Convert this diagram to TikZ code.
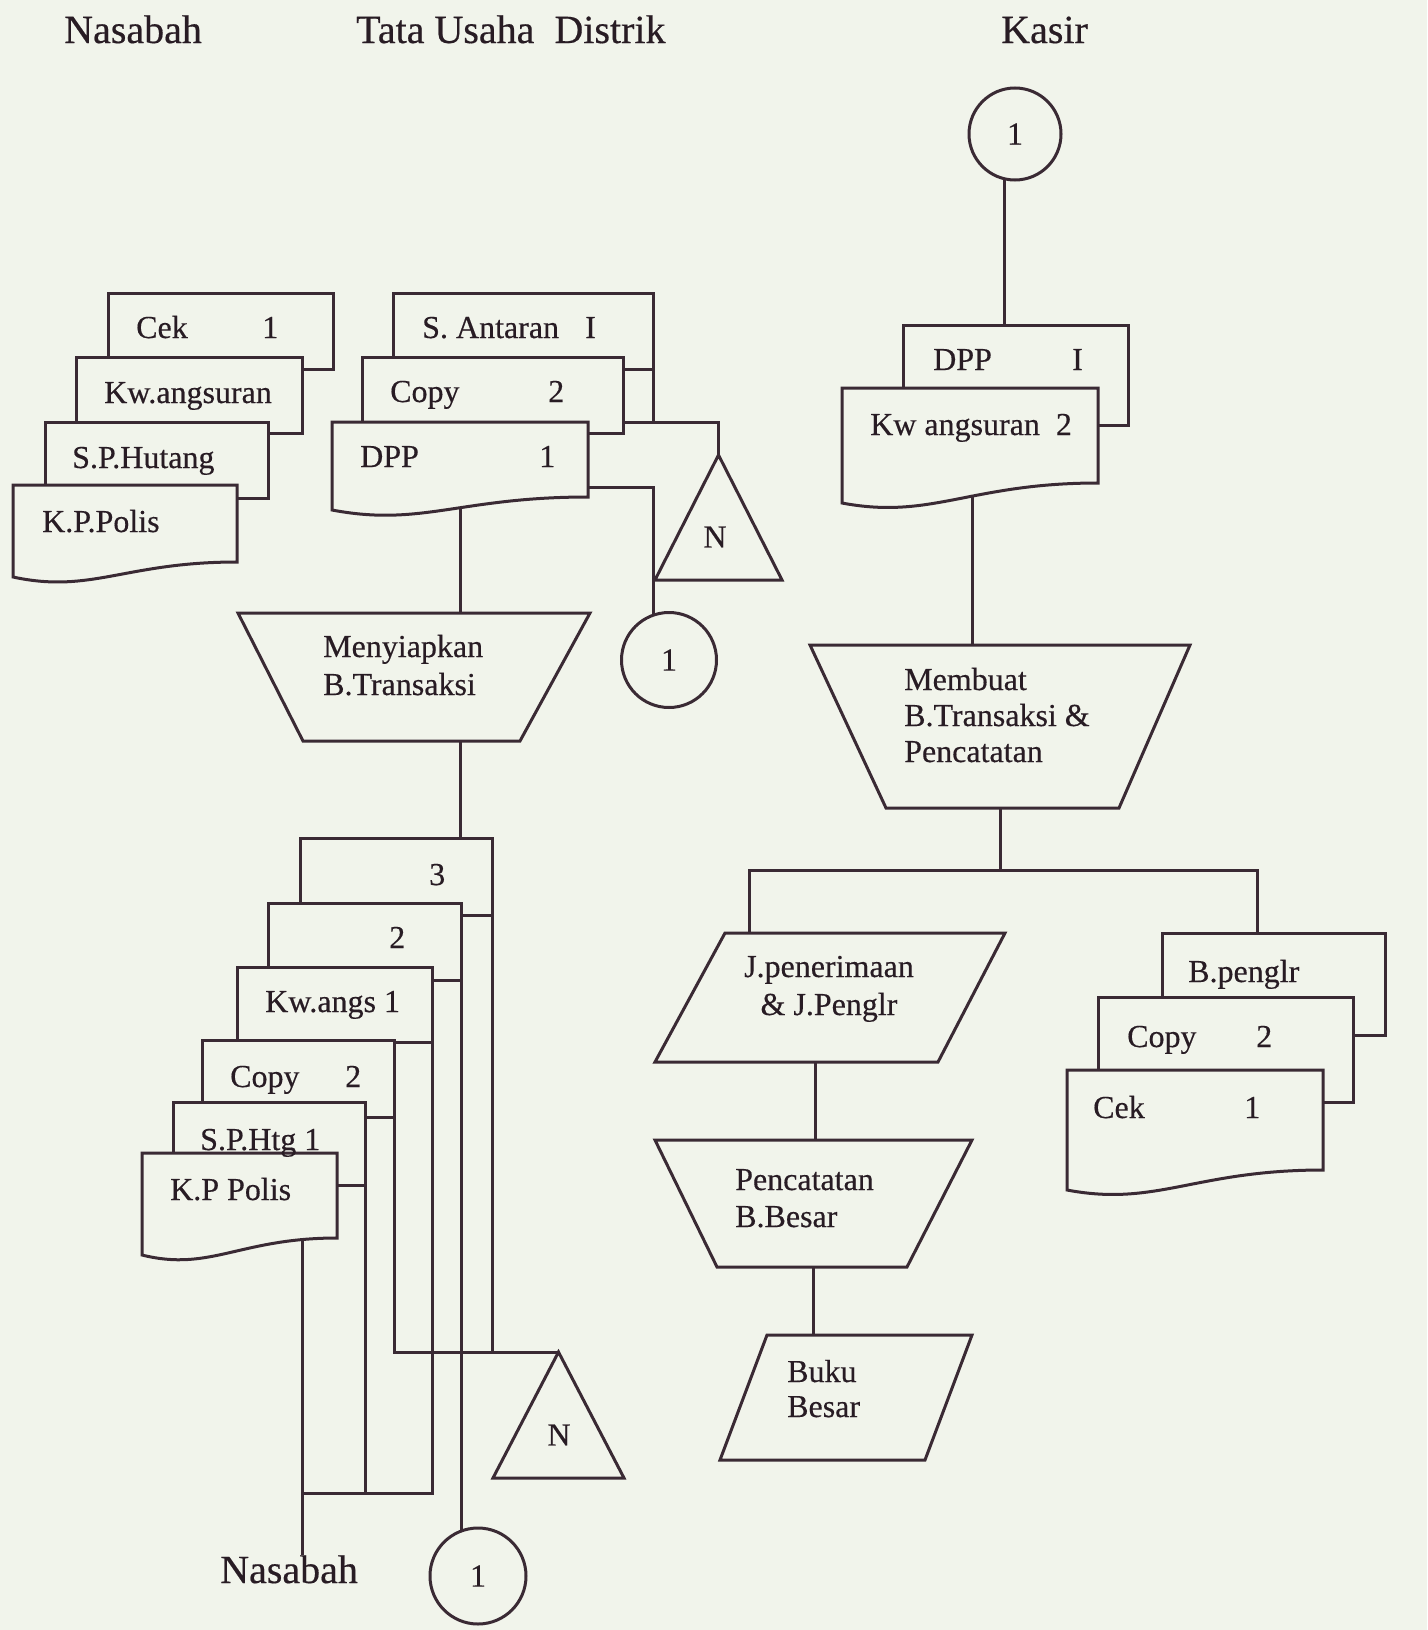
\documentclass[tikz,border=0pt]{standalone}
\usepackage{fontspec}
\setmainfont{Liberation Serif}[FakeBold=0.4]
\usetikzlibrary{calc}
\definecolor{sheetbg}{RGB}{241,244,235}
\definecolor{ink}{RGB}{58,42,52}
\definecolor{inktext}{RGB}{40,28,36}
\pgfdeclarelayer{ground}
\pgfdeclarelayer{wires}
\pgfsetlayers{ground,wires,main}
\tikzset{
  frame/.style={rectangle, inner sep=0pt, outer sep=0pt, anchor=north west, draw=none},
  docline/.style={draw=ink, fill=sheetbg, line width=3pt, line join=miter},
  flow/.style={draw=ink, line width=3pt},
  txt/.style={font=\fontsize{32}{38}\selectfont, text=inktext, inner sep=0pt, anchor=base west},
  ctxt/.style={txt, anchor=base},
  head/.style={font=\fontsize{40}{48}\selectfont, text=inktext, inner sep=0pt, anchor=base west},
  conn/.style={circle, draw=ink, fill=sheetbg, line width=3pt, inner sep=0pt,
    minimum size=#1, font=\fontsize{32}{38}\selectfont, text=inktext},
  tritxt/.style={font=\fontsize{32}{38}\selectfont, text=inktext, inner sep=0pt},
}
% plain sheet lying behind the front one
\newcommand\sheetbox[1]{\filldraw[docline] (#1.north west) rectangle (#1.south east);}
% front document with a wavy lower edge: node, width, drop of the left corner
\newcommand\wavedoc[3]{\filldraw[docline] (#1.north west) -- (#1.north east) -- (#1.south east)
  .. controls +({-0.5*#2},0) and +({0.35*#2},17) .. ($(#1.south west)+(0,#3)$) -- cycle;}

\begin{document}
\begin{tikzpicture}[x=1pt,y=-1pt]
\begin{pgfonlayer}{ground}
  \fill[sheetbg] (0,0) rectangle (1427,1630);
\end{pgfonlayer}
\useasboundingbox (0,0) rectangle (1427,1630);

% ---------- column headings ----------
\node[head] (hNas) at (64,43) {Nasabah};
\node[head] (hTU) at (356,43) {Tata Usaha\ \ Distrik};
\node[head] (hKas) at (1001,43) {Kasir};

% ---------- Nasabah: documents held ----------
\node[frame, minimum width=225pt, minimum height=76pt] (cekA) at (108,293) {};
\node[frame, minimum width=226pt, minimum height=76pt] (kwA) at (76,357) {};
\node[frame, minimum width=223pt, minimum height=76pt] (spA) at (45,422) {};
\node[frame, minimum width=224pt, minimum height=77pt] (kpA) at (13,485) {};
\sheetbox{cekA}\sheetbox{kwA}\sheetbox{spA}\wavedoc{kpA}{224}{15}

% ---------- Tata Usaha: incoming documents ----------
\node[frame, minimum width=260pt, minimum height=76pt] (antar) at (393,293) {};
\node[frame, minimum width=261pt, minimum height=76pt] (copyT) at (362,357) {};
\node[frame, minimum width=256pt, minimum height=75pt] (dppT) at (332,422) {};
\sheetbox{antar}\sheetbox{copyT}\wavedoc{dppT}{256}{13}

% file N (upper)
\node[frame, minimum width=127pt, minimum height=125pt] (fileA) at (655,455) {};
\filldraw[docline] (fileA.north) -- (fileA.south east) -- (fileA.south west) -- cycle;
\node[conn=95pt] (conA) at (669,660) {1};

% manual process
\node[frame, minimum width=352pt, minimum height=128pt] (prep) at (238,613) {};
\filldraw[docline] (prep.north west) -- (prep.north east) -- ($(prep.south east)+(-70,0)$)
  -- ($(prep.south west)+(65,0)$) -- cycle;

% output set of documents
\node[frame, minimum width=192pt, minimum height=77pt] (sh3) at (300,838) {};
\node[frame, minimum width=193pt, minimum height=77pt] (sh2) at (268,903) {};
\node[frame, minimum width=195pt, minimum height=75pt] (kwB) at (237,967) {};
\node[frame, minimum width=192pt, minimum height=77pt] (copyB) at (202,1040) {};
\node[frame, minimum width=192pt, minimum height=83pt] (spB) at (173,1102) {};
\node[frame, minimum width=195pt, minimum height=85pt] (kpB) at (142,1153) {};
\sheetbox{sh3}\sheetbox{sh2}\sheetbox{kwB}\sheetbox{copyB}\sheetbox{spB}\wavedoc{kpB}{195}{17}

% file N (lower) and off-page connector
\node[frame, minimum width=131pt, minimum height=126pt] (fileB) at (493,1352) {};
\filldraw[docline] (fileB.north) -- (fileB.south east) -- (fileB.south west) -- cycle;
\node[conn=96pt] (conB) at (478,1576) {1};
\node[head] (nasB) at (220,1583) {Nasabah};

% ---------- Kasir ----------
\node[conn=92pt] (conK) at (1015,134) {1};
\node[frame, minimum width=225pt, minimum height=100pt] (dppK) at (903,325) {};
\node[frame, minimum width=256pt, minimum height=95pt] (kwK) at (842,388) {};
\sheetbox{dppK}\wavedoc{kwK}{256}{20}

\node[frame, minimum width=380pt, minimum height=163pt] (make) at (810,645) {};
\filldraw[docline] (make.north west) -- (make.north east) -- ($(make.south east)+(-71,0)$)
  -- ($(make.south west)+(76,0)$) -- cycle;

\node[frame, minimum width=350pt, minimum height=129pt] (jrnl) at (655,933) {};
\filldraw[docline] ($(jrnl.north west)+(70,0)$) -- (jrnl.north east) -- ($(jrnl.south east)+(-67,0)$)
  -- (jrnl.south west) -- cycle;

\node[frame, minimum width=317pt, minimum height=127pt] (post) at (655,1140) {};
\filldraw[docline] (post.north west) -- (post.north east) -- ($(post.south east)+(-65,0)$)
  -- ($(post.south west)+(62,0)$) -- cycle;

\node[frame, minimum width=252pt, minimum height=125pt] (ledger) at (720,1335) {};
\filldraw[docline] ($(ledger.north west)+(47,0)$) -- (ledger.north east) -- ($(ledger.south east)+(-47,0)$)
  -- (ledger.south west) -- cycle;

\node[frame, minimum width=223pt, minimum height=102pt] (bpen) at (1162,933) {};
\node[frame, minimum width=255pt, minimum height=105pt] (copyK) at (1098,997) {};
\node[frame, minimum width=256pt, minimum height=100pt] (cekK) at (1067,1070) {};
\sheetbox{bpen}\sheetbox{copyK}\wavedoc{cekK}{256}{20}

% ---------- flow lines ----------
\begin{pgfonlayer}{wires}
  \path (fileA.north) ++(0,-33) coordinate (jA);
  \draw[flow] (antar.south east) -- (antar.south east |- jA);
  \draw[flow] (copyT.east |- jA) -- (jA) -- (fileA.north);
  \coordinate (jD) at (653,487);
  \draw[flow] (dppT.east |- jD) -- (jD) -- (jD |- conA.center);
  \draw[flow] ($(dppT.south west)+(128,0)$) coordinate (dA) -- (dA |- prep.north);
  \draw[flow] ($(prep.south west)+(222,0)$) coordinate (pA) -- (pA |- sh3.north);

  \draw[flow] (copyB.south east) -- (copyB.south east |- fileB.north) -- (fileB.north);
  \draw[flow] (sh3.south east) -- (sh3.south east |- fileB.north);
  \draw[flow] (sh2.south east) -- (sh2.south east |- conB.center);
  \coordinate (jB) at (302,1493);
  \draw[flow] (kwB.south east) -- (kwB.south east |- jB) -- (jB);
  \draw[flow] (spB.south east) -- (spB.south east |- jB);
  \draw[flow] (kpB.south west -| jB) -- (jB) -- (jB |- nasB.north);

  \draw[flow] ($(conK.center)+(-11,0)$) coordinate (kT) -- (kT |- dppK.north);
  \draw[flow] ($(kwK.south west)+(130,0)$) coordinate (kA) -- (kA |- make.north);
  \coordinate (jL) at (749,870);
  \coordinate (jR) at (1257,870);
  \draw[flow] (make.south) -- (make.south |- jL);
  \draw[flow] (jrnl.north -| jL) -- (jL) -- (jR) -- (jR |- bpen.north);
  \draw[flow] ($(jrnl.south)+(-15,0)$) coordinate (jJ) -- (jJ |- post.north);
  \draw[flow] (post.south) -- (post.south |- ledger.north);
\end{pgfonlayer}

% ---------- texts ----------
\node[txt] (tCekA) at (136,338) {Cek};
\node[txt] (nCekA) at (262,338) {1};
\node[txt] (tKwA) at (104,403) {Kw.angsuran};
\node[txt] (tSpA) at (72,468) {S.P.Hutang};
\node[txt] (tKpA) at (42,532) {K.P.Polis};

\node[txt] (tAnt) at (422,338) {S. Antaran};
\node[txt] (nAnt) at (585,338) {I};
\node[txt] (tCopyT) at (390,402) {Copy};
\node[txt] (nCopyT) at (548,402) {2};
\node[txt] (tDppT) at (360,467) {DPP};
\node[txt] (nDppT) at (539,467) {1};
\node[tritxt] (tNA) at (715,537) {N};

\node[txt] (tPrep1) at (323,657) {Menyiapkan};
\node[txt] (tPrep2) at (323,695) {B.Transaksi};

\node[txt] (nSh3) at (429,885) {3};
\node[txt] (nSh2) at (389,948) {2};
\node[txt] (tKwB) at (265,1012) {Kw.angs 1};
\node[txt] (tCopyB) at (230,1087) {Copy};
\node[txt] (nCopyB) at (345,1087) {2};
\node[txt] (tSpB) at (200,1150) {S.P.Htg 1};
\node[txt] (tKpB) at (170,1200) {K.P Polis};
\node[tritxt] (tNB) at (559,1435) {N};

\node[txt] (tDppK) at (933,370) {DPP};
\node[txt] (nDppK) at (1072,370) {I};
\node[txt] (tKwK) at (870,435) {Kw angsuran\ \ 2};

\node[txt] (tMake1) at (904,690) {Membuat};
\node[txt] (tMake2) at (904,726) {B.Transaksi \&};
\node[txt] (tMake3) at (904,762) {Pencatatan};

\node[ctxt] (tJr1) at (829,977) {J.penerimaan};
\node[ctxt] (tJr2) at (829,1015) {\& J.Penglr};

\node[txt] (tPost1) at (735,1190) {Pencatatan};
\node[txt] (tPost2) at (735,1227) {B.Besar};

\node[txt] (tLed1) at (787,1382) {Buku};
\node[txt] (tLed2) at (787,1417) {Besar};

\node[txt] (tBpen) at (1188,982) {B.penglr};
\node[txt] (tCopyK) at (1127,1047) {Copy};
\node[txt] (nCopyK) at (1256,1047) {2};
\node[txt] (tCekK) at (1093,1118) {Cek};
\node[txt] (nCekK) at (1244,1118) {1};
\end{tikzpicture}
\end{document}
